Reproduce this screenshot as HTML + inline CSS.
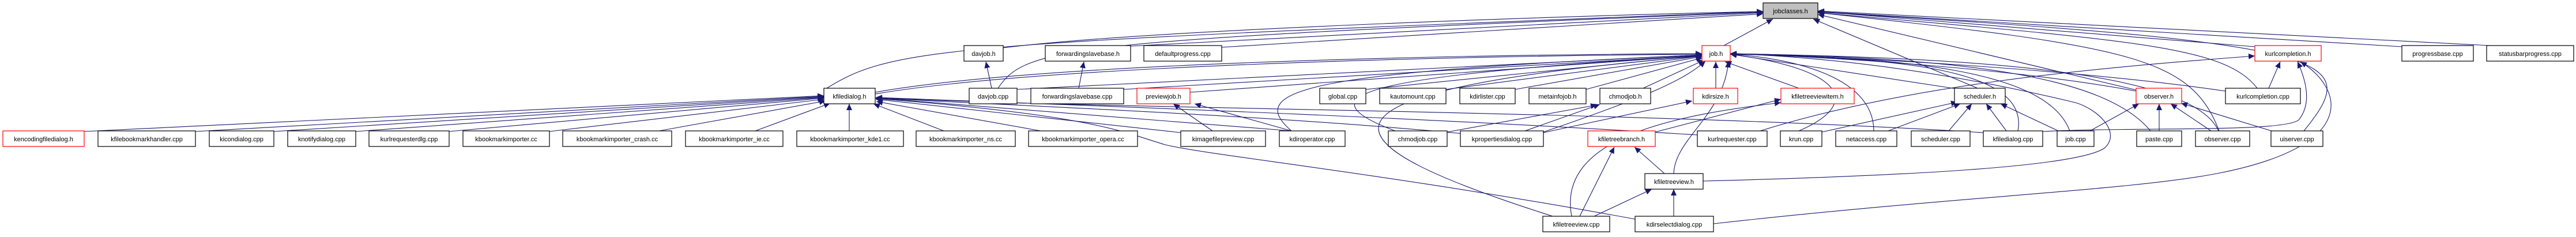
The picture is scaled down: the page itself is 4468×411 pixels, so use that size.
<!DOCTYPE html>
<html><head><meta charset="utf-8"><style>
html,body{margin:0;padding:0;background:#fff;width:4468px;height:411px;overflow:hidden}
svg{display:block}
text{font-family:"Liberation Sans",sans-serif;font-size:11px;fill:#000}
.e{fill:none;stroke:#191970;stroke-width:1.1;marker-end:url(#a)}
.n{fill:#fff;stroke:#000;stroke-width:1.2}
.r{fill:#fff;stroke:#ff0000;stroke-width:1.2}
.g{fill:#bfbfbf;stroke:#000;stroke-width:1.2}
</style></head><body>
<svg width="4468" height="411" viewBox="0 0 4468 411" xmlns="http://www.w3.org/2000/svg">
<defs><marker id="a" markerUnits="userSpaceOnUse" markerWidth="12" markerHeight="10" refX="11" refY="5" orient="auto"><path d="M0,0 L11,5 L0,10 z" fill="#191970"/></marker></defs>
<g>
<!-- into jobclasses.h -->
<path class="e" d="M2990,79 L3075,33"/>
<path class="e" d="M3430,153 L3145,33"/>
<path class="e" d="M1434,153 C1550,80 1650,75 3058,20"/>
<path class="e" d="M1740,83 C2000,50 2800,25 3058,20"/>
<path class="e" d="M1731,153 C1780,80 1850,70 3058,21"/>
<path class="e" d="M1961,80 L3058,22"/>
<path class="e" d="M2119,82 L3058,24"/>
<path class="e" d="M3911,81 L3153,20"/>
<path class="e" d="M4166,81 L3153,20"/>
<path class="e" d="M4319,79 L3153,19"/>
<path class="e" d="M3996,227 C4100,100 4060,75 3153,21"/>
<path class="e" d="M3849,227 C3800,100 3700,80 3153,22"/>
<path class="e" d="M3915,153 C3860,80 3700,70 3153,22"/>
<path class="e" d="M3705,156 L3153,25"/>
<!-- into job.h -->
<path class="e" d="M1518,160 C1800,110 2500,95 2952,93"/>
<path class="e" d="M1518,163 C1800,115 2500,97 2952,94"/>
<path class="e" d="M2064,160 L2952,96"/>
<path class="e" d="M1764,155 L2952,95"/>
<path class="e" d="M1949,155 L2952,96"/>
<path class="e" d="M2369,155 L2952,96"/>
<path class="e" d="M2508,155 L2952,97"/>
<path class="e" d="M2628,155 L2952,98"/>
<path class="e" d="M2751,155 L2953,100"/>
<path class="e" d="M2850,153 L2956,104"/>
<path class="e" d="M2240,227 C2150,150 2300,125 2952,95"/>
<path class="e" d="M2420,227 C2240,160 2400,130 2952,96"/>
<path class="e" d="M2677,229 C2850,170 2920,140 2958,106"/>
<path class="e" d="M2976,153 L2976,107"/>
<path class="e" d="M3120,153 L2992,107"/>
<path class="e" d="M3120,227 C3230,180 3200,120 3001,94"/>
<path class="e" d="M3250,227 C3250,130 3100,100 3001,94"/>
<path class="e" d="M3400,155 L3001,94"/>
<path class="e" d="M3500,227 C3520,120 3300,100 3001,94"/>
<path class="e" d="M3590,227 C3550,120 3300,100 3001,93"/>
<path class="e" d="M3730,227 C3650,130 3400,100 3001,93"/>
<path class="e" d="M3848,227 C3800,120 3400,100 3001,93"/>
<path class="e" d="M3705,158 C3500,120 3200,100 3001,93"/>
<path class="e" d="M3860,158 C3600,120 3200,98 3001,93"/>
<path class="e" d="M2693,375 C2300,250 2200,160 2952,97"/>
<path class="e" d="M2903,301 C2905,240 2990,200 2998,106"/>
<!-- into kfiledialog.h -->
<path class="e" d="M146,228 L1429,166"/>
<path class="e" d="M339,228 L1429,167"/>
<path class="e" d="M475,228 L1429,168"/>
<path class="e" d="M617,228 L1429,169"/>
<path class="e" d="M779,228 L1429,170"/>
<path class="e" d="M953,228 L1430,172"/>
<path class="e" d="M1143,227 L1432,175"/>
<path class="e" d="M1310,227 L1440,179"/>
<path class="e" d="M1473,227 L1473,180"/>
<path class="e" d="M1637,227 L1515,180"/>
<path class="e" d="M1805,227 L1520,176"/>
<path class="e" d="M2048,230 L1519,172"/>
<path class="e" d="M2240,227 L1519,170"/>
<path class="e" d="M2540,232 C2200,200 1800,185 1519,170"/>
<path class="e" d="M2944,234 C2400,200 1800,180 1519,169"/>
<path class="e" d="M3440,230 C2800,190 1900,190 1519,169"/>
<path class="e" d="M2836,380 C2400,300 2100,270 2021,251 C1950,230 1900,200 1519,171"/>
<!-- others -->
<path class="e" d="M1720,153 L1710,107"/>
<path class="e" d="M1871,153 L1880,107"/>
<path class="e" d="M2103,227 L2035,180"/>
<path class="e" d="M2240,227 L2072,180"/>
<path class="e" d="M2510,229 L2770,182"/>
<path class="e" d="M2645,227 L2775,181"/>
<path class="e" d="M2677,230 L2935,175"/>
<path class="e" d="M2871,229 L3089,172"/>
<path class="e" d="M2726,375 C2700,240 2900,200 3089,178"/>
<path class="e" d="M2740,375 L2800,255"/>
<path class="e" d="M2887,301 L2835,255"/>
<path class="e" d="M2765,375 L2865,328"/>
<path class="e" d="M2903,375 L2903,328"/>
<path class="e" d="M3160,229 L3395,177"/>
<path class="e" d="M3275,227 L3400,180"/>
<path class="e" d="M3380,227 L3420,180"/>
<path class="e" d="M3480,227 L3445,180"/>
<path class="e" d="M3570,227 L3470,180"/>
<path class="e" d="M3625,227 L3710,180"/>
<path class="e" d="M3745,227 L3745,180"/>
<path class="e" d="M3835,227 L3765,180"/>
<path class="e" d="M3940,227 L3783,179"/>
<path class="e" d="M3935,153 L3955,107"/>
<path class="e" d="M3053,227 C3300,150 3600,120 3911,97"/>
<path class="e" d="M3543,228 C3700,220 3960,230 3987,208 C4010,180 4000,140 3985,107"/>
<path class="e" d="M2972,388 C3400,340 3700,330 3850,300 C4100,250 4060,150 3990,107"/>
<path class="e" d="M2954,314 C3300,305 3600,290 3650,257 C3680,230 3640,190 3600,178 C3400,130 3200,100 3001,93"/>
</g>
<g>
<rect class="g" x="3058" y="5" width="95" height="27"/><text x="3105.5" y="23" text-anchor="middle">jobclasses.h</text>
<rect class="r" x="2952" y="79" width="49" height="27"/><text x="2976.5" y="97" text-anchor="middle">job.h</text>
<rect class="n" x="1672" y="79" width="68" height="27"/><text x="1706" y="97" text-anchor="middle">davjob.h</text>
<rect class="n" x="1813" y="79" width="148" height="27"/><text x="1887" y="97" text-anchor="middle">forwardingslavebase.h</text>
<rect class="n" x="1984" y="79" width="135" height="27"/><text x="2051.5" y="97" text-anchor="middle">defaultprogress.cpp</text>
<rect class="r" x="3911" y="79" width="115" height="27"/><text x="3968.5" y="97" text-anchor="middle">kurlcompletion.h</text>
<rect class="n" x="4166" y="79" width="124" height="27"/><text x="4228" y="97" text-anchor="middle">progressbase.cpp</text>
<rect class="n" x="4313" y="79" width="151" height="27"/><text x="4388.5" y="97" text-anchor="middle">statusbarprogress.cpp</text>
<rect class="n" x="1429" y="153" width="89" height="27"/><text x="1473.5" y="171" text-anchor="middle">kfiledialog.h</text>
<rect class="n" x="1681" y="153" width="83" height="27"/><text x="1722.5" y="171" text-anchor="middle">davjob.cpp</text>
<rect class="n" x="1788" y="153" width="161" height="27"/><text x="1868.5" y="171" text-anchor="middle">forwardingslavebase.cpp</text>
<rect class="r" x="1972" y="153" width="92" height="27"/><text x="2018" y="171" text-anchor="middle">previewjob.h</text>
<rect class="n" x="2289" y="153" width="80" height="27"/><text x="2329" y="171" text-anchor="middle">global.cpp</text>
<rect class="n" x="2393" y="153" width="115" height="27"/><text x="2450.5" y="171" text-anchor="middle">kautomount.cpp</text>
<rect class="n" x="2532" y="153" width="96" height="27"/><text x="2580" y="171" text-anchor="middle">kdirlister.cpp</text>
<rect class="n" x="2652" y="153" width="99" height="27"/><text x="2701.5" y="171" text-anchor="middle">metainfojob.h</text>
<rect class="n" x="2775" y="153" width="88" height="27"/><text x="2819" y="171" text-anchor="middle">chmodjob.h</text>
<rect class="r" x="2937" y="153" width="77" height="27"/><text x="2975.5" y="171" text-anchor="middle">kdirsize.h</text>
<rect class="r" x="3089" y="153" width="127" height="27"/><text x="3152.5" y="171" text-anchor="middle">kfiletreeviewitem.h</text>
<rect class="n" x="3390" y="153" width="88" height="27"/><text x="3434" y="171" text-anchor="middle">scheduler.h</text>
<rect class="r" x="3705" y="153" width="79" height="27"/><text x="3744.5" y="171" text-anchor="middle">observer.h</text>
<rect class="n" x="3860" y="153" width="130" height="27"/><text x="3925" y="171" text-anchor="middle">kurlcompletion.cpp</text>
<rect class="r" x="5" y="227" width="141" height="27"/><text x="75.5" y="245" text-anchor="middle">kencodingfiledialog.h</text>
<rect class="n" x="170" y="227" width="169" height="27"/><text x="254.5" y="245" text-anchor="middle">kfilebookmarkhandler.cpp</text>
<rect class="n" x="363" y="227" width="112" height="27"/><text x="419" y="245" text-anchor="middle">kicondialog.cpp</text>
<rect class="n" x="499" y="227" width="118" height="27"/><text x="558" y="245" text-anchor="middle">knotifydialog.cpp</text>
<rect class="n" x="640" y="227" width="139" height="27"/><text x="709.5" y="245" text-anchor="middle">kurlrequesterdlg.cpp</text>
<rect class="n" x="803" y="227" width="150" height="27"/><text x="878" y="245" text-anchor="middle">kbookmarkimporter.cc</text>
<rect class="n" x="976" y="227" width="189" height="27"/><text x="1070.5" y="245" text-anchor="middle">kbookmarkimporter_crash.cc</text>
<rect class="n" x="1189" y="227" width="169" height="27"/><text x="1273.5" y="245" text-anchor="middle">kbookmarkimporter_ie.cc</text>
<rect class="n" x="1382" y="227" width="185" height="27"/><text x="1474.5" y="245" text-anchor="middle">kbookmarkimporter_kde1.cc</text>
<rect class="n" x="1589" y="227" width="172" height="27"/><text x="1675" y="245" text-anchor="middle">kbookmarkimporter_ns.cc</text>
<rect class="n" x="1784" y="227" width="189" height="27"/><text x="1878.5" y="245" text-anchor="middle">kbookmarkimporter_opera.cc</text>
<rect class="n" x="2048" y="227" width="147" height="27"/><text x="2121.5" y="245" text-anchor="middle">kimagefilepreview.cpp</text>
<rect class="n" x="2219" y="227" width="114" height="27"/><text x="2276" y="245" text-anchor="middle">kdiroperator.cpp</text>
<rect class="n" x="2408" y="227" width="102" height="27"/><text x="2459" y="245" text-anchor="middle">chmodjob.cpp</text>
<rect class="n" x="2533" y="227" width="144" height="27"/><text x="2605" y="245" text-anchor="middle">kpropertiesdialog.cpp</text>
<rect class="r" x="2754" y="227" width="117" height="27"/><text x="2812.5" y="245" text-anchor="middle">kfiletreebranch.h</text>
<rect class="n" x="2944" y="227" width="121" height="27"/><text x="3004.5" y="245" text-anchor="middle">kurlrequester.cpp</text>
<rect class="n" x="3088" y="227" width="72" height="27"/><text x="3124" y="245" text-anchor="middle">krun.cpp</text>
<rect class="n" x="3184" y="227" width="106" height="27"/><text x="3237" y="245" text-anchor="middle">netaccess.cpp</text>
<rect class="n" x="3315" y="227" width="102" height="27"/><text x="3366" y="245" text-anchor="middle">scheduler.cpp</text>
<rect class="n" x="3440" y="227" width="103" height="27"/><text x="3491.5" y="245" text-anchor="middle">kfiledialog.cpp</text>
<rect class="n" x="3568" y="227" width="64" height="27"/><text x="3600" y="245" text-anchor="middle">job.cpp</text>
<rect class="n" x="3706" y="227" width="78" height="27"/><text x="3745" y="245" text-anchor="middle">paste.cpp</text>
<rect class="n" x="3808" y="227" width="94" height="27"/><text x="3855" y="245" text-anchor="middle">observer.cpp</text>
<rect class="n" x="3939" y="227" width="90" height="27"/><text x="3984" y="245" text-anchor="middle">uiserver.cpp</text>
<rect class="n" x="2853" y="301" width="101" height="27"/><text x="2903.5" y="319" text-anchor="middle">kfiletreeview.h</text>
<rect class="n" x="2676" y="375" width="116" height="27"/><text x="2734" y="393" text-anchor="middle">kfiletreeview.cpp</text>
<rect class="n" x="2836" y="375" width="136" height="27"/><text x="2904" y="393" text-anchor="middle">kdirselectdialog.cpp</text>
</g>
</svg>
</body></html>
